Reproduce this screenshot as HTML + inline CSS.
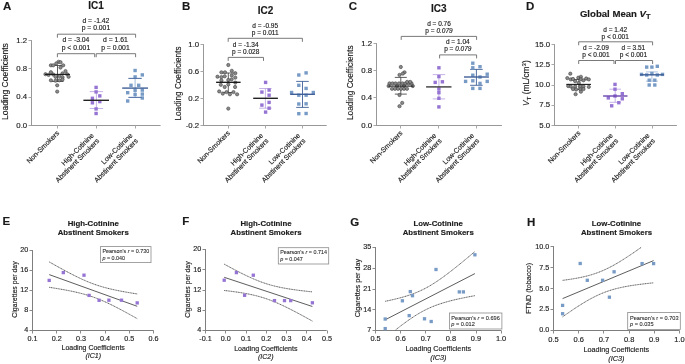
<!DOCTYPE html>
<html><head><meta charset="utf-8"><style>
html,body{margin:0;padding:0;background:#fff;}
body{width:685px;height:364px;overflow:hidden;}
svg{display:block;font-family:"Liberation Sans", sans-serif;will-change:transform;}
text{stroke:#222;stroke-width:0.15px;}
</style></head><body>
<svg width="685" height="364" viewBox="0 0 685 364">
<rect width="685" height="364" fill="#fff"/>
<text x="3.00" y="10.30" font-size="11.5" text-anchor="start" font-weight="bold" fill="#1a1a1a">A</text>
<text x="96.10" y="8.60" font-size="10" text-anchor="middle" font-weight="bold" fill="#1a1a1a">IC1</text>
<line x1="31.50" y1="40.00" x2="31.50" y2="126.00" stroke="#989898" stroke-width="1"/>
<line x1="28.50" y1="40.50" x2="31.50" y2="40.50" stroke="#a8a8a8" stroke-width="1"/>
<text x="27.20" y="42.66" font-size="7.8" text-anchor="end" fill="#1a1a1a">1.2</text>
<line x1="28.50" y1="68.50" x2="31.50" y2="68.50" stroke="#a8a8a8" stroke-width="1"/>
<text x="27.20" y="70.96" font-size="7.8" text-anchor="end" fill="#1a1a1a">0.8</text>
<line x1="28.50" y1="97.50" x2="31.50" y2="97.50" stroke="#a8a8a8" stroke-width="1"/>
<text x="27.20" y="99.26" font-size="7.8" text-anchor="end" fill="#1a1a1a">0.4</text>
<line x1="28.50" y1="125.50" x2="31.50" y2="125.50" stroke="#a8a8a8" stroke-width="1"/>
<text x="27.20" y="127.56" font-size="7.8" text-anchor="end" fill="#1a1a1a">0.0</text>
<line x1="31.00" y1="125.50" x2="160.60" y2="125.50" stroke="#989898" stroke-width="1"/>
<line x1="57.50" y1="125.50" x2="57.50" y2="128.50" stroke="#a8a8a8" stroke-width="1"/>
<line x1="96.50" y1="125.50" x2="96.50" y2="128.50" stroke="#a8a8a8" stroke-width="1"/>
<line x1="135.50" y1="125.50" x2="135.50" y2="128.50" stroke="#a8a8a8" stroke-width="1"/>
<text transform="translate(7.80,81.60) rotate(-90)" font-size="8.5" text-anchor="middle" fill="#1a1a1a">Loading Coefficients</text>
<text x="95.90" y="22.70" font-size="6.8" text-anchor="middle" fill="#1a1a1a">d = -1.42</text>
<text x="95.90" y="29.90" font-size="6.8" text-anchor="middle" fill="#1a1a1a">p = 0.001</text>
<path d="M57.40,37.70 V34.20 H135.60 V37.70" fill="none" stroke="#6a6a6a" stroke-width="0.9"/>
<text x="75.90" y="42.30" font-size="6.8" text-anchor="middle" fill="#1a1a1a">d = -3.04</text>
<text x="75.90" y="49.50" font-size="6.8" text-anchor="middle" fill="#1a1a1a">p &lt; 0.001</text>
<text x="115.40" y="42.30" font-size="6.8" text-anchor="middle" fill="#1a1a1a">d = 1.61</text>
<text x="115.40" y="49.50" font-size="6.8" text-anchor="middle" fill="#1a1a1a">p = 0.001</text>
<path d="M57.40,57.20 V53.70 H94.70 V57.20" fill="none" stroke="#6a6a6a" stroke-width="0.9"/>
<path d="M96.20,57.20 V53.70 H135.60 V57.20" fill="none" stroke="#6a6a6a" stroke-width="0.9"/>
<line x1="57.50" y1="65.50" x2="57.50" y2="81.50" stroke="#333" stroke-width="0.8"/>
<line x1="51.50" y1="65.50" x2="63.50" y2="65.50" stroke="#333" stroke-width="0.8"/>
<line x1="51.50" y1="81.50" x2="63.50" y2="81.50" stroke="#333" stroke-width="0.8"/>
<circle cx="58.60" cy="61.80" r="1.65" fill="#8a8a8a" stroke="#383838" stroke-width="0.55"/>
<circle cx="60.50" cy="62.20" r="1.65" fill="#8a8a8a" stroke="#383838" stroke-width="0.55"/>
<circle cx="56.30" cy="63.40" r="1.65" fill="#8a8a8a" stroke="#383838" stroke-width="0.55"/>
<circle cx="50.90" cy="65.30" r="1.65" fill="#8a8a8a" stroke="#383838" stroke-width="0.55"/>
<circle cx="53.20" cy="65.30" r="1.65" fill="#8a8a8a" stroke="#383838" stroke-width="0.55"/>
<circle cx="63.20" cy="65.30" r="1.65" fill="#8a8a8a" stroke="#383838" stroke-width="0.55"/>
<circle cx="60.50" cy="67.60" r="1.65" fill="#8a8a8a" stroke="#383838" stroke-width="0.55"/>
<circle cx="50.90" cy="72.20" r="1.65" fill="#8a8a8a" stroke="#383838" stroke-width="0.55"/>
<circle cx="65.50" cy="71.10" r="1.65" fill="#8a8a8a" stroke="#383838" stroke-width="0.55"/>
<circle cx="45.50" cy="74.20" r="1.65" fill="#8a8a8a" stroke="#383838" stroke-width="0.55"/>
<circle cx="48.60" cy="74.90" r="1.65" fill="#8a8a8a" stroke="#383838" stroke-width="0.55"/>
<circle cx="53.20" cy="74.50" r="1.65" fill="#8a8a8a" stroke="#383838" stroke-width="0.55"/>
<circle cx="62.50" cy="73.40" r="1.65" fill="#8a8a8a" stroke="#383838" stroke-width="0.55"/>
<circle cx="67.10" cy="74.20" r="1.65" fill="#8a8a8a" stroke="#383838" stroke-width="0.55"/>
<circle cx="68.60" cy="76.80" r="1.65" fill="#8a8a8a" stroke="#383838" stroke-width="0.55"/>
<circle cx="55.50" cy="76.80" r="1.65" fill="#8a8a8a" stroke="#383838" stroke-width="0.55"/>
<circle cx="59.40" cy="76.10" r="1.65" fill="#8a8a8a" stroke="#383838" stroke-width="0.55"/>
<circle cx="62.50" cy="77.20" r="1.65" fill="#8a8a8a" stroke="#383838" stroke-width="0.55"/>
<circle cx="50.90" cy="80.30" r="1.65" fill="#8a8a8a" stroke="#383838" stroke-width="0.55"/>
<circle cx="55.50" cy="80.70" r="1.65" fill="#8a8a8a" stroke="#383838" stroke-width="0.55"/>
<circle cx="59.40" cy="80.30" r="1.65" fill="#8a8a8a" stroke="#383838" stroke-width="0.55"/>
<circle cx="62.50" cy="79.50" r="1.65" fill="#8a8a8a" stroke="#383838" stroke-width="0.55"/>
<circle cx="57.20" cy="85.30" r="1.65" fill="#8a8a8a" stroke="#383838" stroke-width="0.55"/>
<circle cx="57.20" cy="91.60" r="1.65" fill="#8a8a8a" stroke="#383838" stroke-width="0.55"/>
<line x1="45.00" y1="74.40" x2="70.00" y2="74.40" stroke="#1a1a1a" stroke-width="1.1"/>
<line x1="96.40" y1="91.60" x2="96.40" y2="108.50" stroke="#ad92de" stroke-width="0.7"/>
<line x1="89.70" y1="91.60" x2="103.10" y2="91.60" stroke="#ad92de" stroke-width="0.7"/>
<line x1="89.70" y1="108.50" x2="103.10" y2="108.50" stroke="#ad92de" stroke-width="0.7"/>
<rect x="94.40" y="85.70" width="3.4" height="3.4" fill="#9674d3"/>
<rect x="94.40" y="90.20" width="3.4" height="3.4" fill="#9674d3"/>
<rect x="98.10" y="94.20" width="3.4" height="3.4" fill="#9674d3"/>
<rect x="90.70" y="96.60" width="3.4" height="3.4" fill="#9674d3"/>
<rect x="98.10" y="99.90" width="3.4" height="3.4" fill="#9674d3"/>
<rect x="90.70" y="101.10" width="3.4" height="3.4" fill="#9674d3"/>
<rect x="94.40" y="107.20" width="3.4" height="3.4" fill="#9674d3"/>
<rect x="94.40" y="111.80" width="3.4" height="3.4" fill="#9674d3"/>
<line x1="83.40" y1="100.30" x2="109.00" y2="100.30" stroke="#222" stroke-width="1.4"/>
<line x1="135.10" y1="78.40" x2="135.10" y2="97.40" stroke="#8eaad2" stroke-width="0.8"/>
<line x1="128.50" y1="78.40" x2="141.70" y2="78.40" stroke="#8eaad2" stroke-width="0.8"/>
<line x1="128.50" y1="97.40" x2="141.70" y2="97.40" stroke="#8eaad2" stroke-width="0.8"/>
<rect x="133.40" y="68.80" width="3.4" height="3.4" fill="#789bc6"/>
<rect x="140.60" y="73.20" width="3.4" height="3.4" fill="#789bc6"/>
<rect x="133.40" y="75.20" width="3.4" height="3.4" fill="#789bc6"/>
<rect x="129.30" y="83.60" width="3.4" height="3.4" fill="#789bc6"/>
<rect x="137.00" y="83.60" width="3.4" height="3.4" fill="#789bc6"/>
<rect x="133.40" y="88.60" width="3.4" height="3.4" fill="#789bc6"/>
<rect x="140.60" y="88.40" width="3.4" height="3.4" fill="#789bc6"/>
<rect x="126.00" y="91.00" width="3.4" height="3.4" fill="#789bc6"/>
<rect x="140.60" y="92.40" width="3.4" height="3.4" fill="#789bc6"/>
<rect x="133.40" y="92.80" width="3.4" height="3.4" fill="#789bc6"/>
<rect x="140.60" y="96.30" width="3.4" height="3.4" fill="#789bc6"/>
<rect x="126.00" y="99.30" width="3.4" height="3.4" fill="#789bc6"/>
<line x1="122.20" y1="88.10" x2="148.00" y2="88.10" stroke="#3f5f98" stroke-width="1.4"/>
<line x1="128.40" y1="78.40" x2="141.60" y2="78.40" stroke="#3f5f98" stroke-width="0.8"/>
<line x1="128.40" y1="97.40" x2="141.60" y2="97.40" stroke="#3f5f98" stroke-width="0.8"/>
<text transform="translate(59.70,133.50) rotate(-45)" font-size="7.0" text-anchor="end" fill="#1a1a1a">Non-Smokers</text>
<text transform="translate(94.30,135.90) rotate(-45)" font-size="7.0" text-anchor="end" fill="#1a1a1a">High-Cotinine</text>
<text transform="translate(99.74,141.34) rotate(-45)" font-size="7.0" text-anchor="end" fill="#1a1a1a">Abstinent Smokers</text>
<text transform="translate(133.00,135.90) rotate(-45)" font-size="7.0" text-anchor="end" fill="#1a1a1a">Low-Cotinine</text>
<text transform="translate(138.44,141.34) rotate(-45)" font-size="7.0" text-anchor="end" fill="#1a1a1a">Abstinent Smokers</text>
<text x="181.90" y="10.40" font-size="11.5" text-anchor="start" font-weight="bold" fill="#1a1a1a">B</text>
<text x="265.50" y="14.30" font-size="10" text-anchor="middle" font-weight="bold" fill="#1a1a1a">IC2</text>
<line x1="203.50" y1="44.00" x2="203.50" y2="126.00" stroke="#989898" stroke-width="1"/>
<line x1="200.50" y1="44.50" x2="203.50" y2="44.50" stroke="#a8a8a8" stroke-width="1"/>
<text x="199.20" y="46.76" font-size="7.8" text-anchor="end" fill="#1a1a1a">1.0</text>
<line x1="200.50" y1="71.50" x2="203.50" y2="71.50" stroke="#a8a8a8" stroke-width="1"/>
<text x="199.20" y="73.69" font-size="7.8" text-anchor="end" fill="#1a1a1a">0.6</text>
<line x1="200.50" y1="98.50" x2="203.50" y2="98.50" stroke="#a8a8a8" stroke-width="1"/>
<text x="199.20" y="100.63" font-size="7.8" text-anchor="end" fill="#1a1a1a">0.2</text>
<line x1="200.50" y1="125.50" x2="203.50" y2="125.50" stroke="#a8a8a8" stroke-width="1"/>
<text x="199.20" y="127.56" font-size="7.8" text-anchor="end" fill="#1a1a1a">-0.2</text>
<line x1="203.00" y1="125.50" x2="326.70" y2="125.50" stroke="#989898" stroke-width="1"/>
<line x1="228.50" y1="125.50" x2="228.50" y2="128.50" stroke="#a8a8a8" stroke-width="1"/>
<line x1="265.50" y1="125.50" x2="265.50" y2="128.50" stroke="#a8a8a8" stroke-width="1"/>
<line x1="302.50" y1="125.50" x2="302.50" y2="128.50" stroke="#a8a8a8" stroke-width="1"/>
<text transform="translate(180.50,83.50) rotate(-90)" font-size="8.2" text-anchor="middle" fill="#1a1a1a">Loading Coefficients</text>
<text x="265.20" y="27.90" font-size="6.5" text-anchor="middle" fill="#1a1a1a">d = -0.95</text>
<text x="265.20" y="34.90" font-size="6.5" text-anchor="middle" fill="#1a1a1a">p = 0.011</text>
<path d="M228.20,41.80 V38.30 H302.40 V41.80" fill="none" stroke="#6a6a6a" stroke-width="0.9"/>
<text x="245.70" y="47.00" font-size="6.5" text-anchor="middle" fill="#1a1a1a">d = -1.34</text>
<text x="245.70" y="54.00" font-size="6.5" text-anchor="middle" fill="#1a1a1a">p = 0.028</text>
<path d="M228.20,60.90 V57.40 H263.50 V60.90" fill="none" stroke="#6a6a6a" stroke-width="0.9"/>
<line x1="228.30" y1="73.00" x2="228.30" y2="92.50" stroke="#333" stroke-width="0.8"/>
<line x1="222.00" y1="73.00" x2="234.60" y2="73.00" stroke="#333" stroke-width="0.8"/>
<line x1="222.00" y1="92.50" x2="234.60" y2="92.50" stroke="#333" stroke-width="0.8"/>
<circle cx="228.30" cy="65.00" r="1.65" fill="#8a8a8a" stroke="#383838" stroke-width="0.55"/>
<circle cx="221.40" cy="72.30" r="1.65" fill="#8a8a8a" stroke="#383838" stroke-width="0.55"/>
<circle cx="225.00" cy="72.30" r="1.65" fill="#8a8a8a" stroke="#383838" stroke-width="0.55"/>
<circle cx="231.80" cy="70.80" r="1.65" fill="#8a8a8a" stroke="#383838" stroke-width="0.55"/>
<circle cx="235.30" cy="73.20" r="1.65" fill="#8a8a8a" stroke="#383838" stroke-width="0.55"/>
<circle cx="217.50" cy="76.70" r="1.65" fill="#8a8a8a" stroke="#383838" stroke-width="0.55"/>
<circle cx="221.40" cy="77.10" r="1.65" fill="#8a8a8a" stroke="#383838" stroke-width="0.55"/>
<circle cx="224.70" cy="76.30" r="1.65" fill="#8a8a8a" stroke="#383838" stroke-width="0.55"/>
<circle cx="231.80" cy="75.40" r="1.65" fill="#8a8a8a" stroke="#383838" stroke-width="0.55"/>
<circle cx="235.30" cy="77.60" r="1.65" fill="#8a8a8a" stroke="#383838" stroke-width="0.55"/>
<circle cx="231.60" cy="79.30" r="1.65" fill="#8a8a8a" stroke="#383838" stroke-width="0.55"/>
<circle cx="228.30" cy="80.00" r="1.65" fill="#8a8a8a" stroke="#383838" stroke-width="0.55"/>
<circle cx="221.40" cy="80.40" r="1.65" fill="#8a8a8a" stroke="#383838" stroke-width="0.55"/>
<circle cx="220.80" cy="84.80" r="1.65" fill="#8a8a8a" stroke="#383838" stroke-width="0.55"/>
<circle cx="224.70" cy="87.00" r="1.65" fill="#8a8a8a" stroke="#383838" stroke-width="0.55"/>
<circle cx="228.30" cy="84.40" r="1.65" fill="#8a8a8a" stroke="#383838" stroke-width="0.55"/>
<circle cx="235.30" cy="82.60" r="1.65" fill="#8a8a8a" stroke="#383838" stroke-width="0.55"/>
<circle cx="235.10" cy="87.00" r="1.65" fill="#8a8a8a" stroke="#383838" stroke-width="0.55"/>
<circle cx="219.20" cy="91.40" r="1.65" fill="#8a8a8a" stroke="#383838" stroke-width="0.55"/>
<circle cx="222.80" cy="93.60" r="1.65" fill="#8a8a8a" stroke="#383838" stroke-width="0.55"/>
<circle cx="226.50" cy="92.10" r="1.65" fill="#8a8a8a" stroke="#383838" stroke-width="0.55"/>
<circle cx="229.90" cy="94.30" r="1.65" fill="#8a8a8a" stroke="#383838" stroke-width="0.55"/>
<circle cx="233.50" cy="92.10" r="1.65" fill="#8a8a8a" stroke="#383838" stroke-width="0.55"/>
<circle cx="237.10" cy="94.30" r="1.65" fill="#8a8a8a" stroke="#383838" stroke-width="0.55"/>
<circle cx="228.30" cy="108.60" r="1.65" fill="#8a8a8a" stroke="#383838" stroke-width="0.55"/>
<line x1="216.10" y1="82.30" x2="240.60" y2="82.30" stroke="#111" stroke-width="1.3"/>
<line x1="265.40" y1="88.50" x2="265.40" y2="108.20" stroke="#ad92de" stroke-width="0.7"/>
<line x1="259.20" y1="88.50" x2="271.60" y2="88.50" stroke="#ad92de" stroke-width="0.7"/>
<line x1="259.20" y1="108.20" x2="271.60" y2="108.20" stroke="#ad92de" stroke-width="0.7"/>
<rect x="263.90" y="80.70" width="3.4" height="3.4" fill="#9674d3"/>
<rect x="260.20" y="90.40" width="3.4" height="3.4" fill="#9674d3"/>
<rect x="267.40" y="88.40" width="3.4" height="3.4" fill="#9674d3"/>
<rect x="267.40" y="93.50" width="3.4" height="3.4" fill="#9674d3"/>
<rect x="260.20" y="103.40" width="3.4" height="3.4" fill="#9674d3"/>
<rect x="267.40" y="100.70" width="3.4" height="3.4" fill="#9674d3"/>
<rect x="267.40" y="106.50" width="3.4" height="3.4" fill="#9674d3"/>
<rect x="263.90" y="110.40" width="3.4" height="3.4" fill="#9674d3"/>
<line x1="253.20" y1="98.30" x2="277.90" y2="98.30" stroke="#222" stroke-width="1.4"/>
<line x1="302.50" y1="81.40" x2="302.50" y2="107.40" stroke="#3f5f98" stroke-width="0.9"/>
<line x1="296.20" y1="81.40" x2="308.80" y2="81.40" stroke="#3f5f98" stroke-width="0.9"/>
<line x1="296.20" y1="107.40" x2="308.80" y2="107.40" stroke="#3f5f98" stroke-width="0.9"/>
<rect x="297.10" y="73.30" width="3.4" height="3.4" fill="#789bc6"/>
<rect x="304.40" y="71.20" width="3.4" height="3.4" fill="#789bc6"/>
<rect x="297.10" y="83.60" width="3.4" height="3.4" fill="#789bc6"/>
<rect x="304.40" y="86.70" width="3.4" height="3.4" fill="#789bc6"/>
<rect x="289.90" y="90.80" width="3.4" height="3.4" fill="#789bc6"/>
<rect x="311.60" y="90.80" width="3.4" height="3.4" fill="#789bc6"/>
<rect x="297.10" y="93.50" width="3.4" height="3.4" fill="#789bc6"/>
<rect x="304.40" y="93.50" width="3.4" height="3.4" fill="#789bc6"/>
<rect x="297.10" y="102.30" width="3.4" height="3.4" fill="#789bc6"/>
<rect x="304.40" y="102.10" width="3.4" height="3.4" fill="#789bc6"/>
<rect x="297.10" y="112.00" width="3.4" height="3.4" fill="#789bc6"/>
<rect x="304.40" y="111.80" width="3.4" height="3.4" fill="#789bc6"/>
<line x1="290.20" y1="94.30" x2="314.90" y2="94.30" stroke="#3f5f98" stroke-width="1.4"/>
<text transform="translate(230.40,133.50) rotate(-45)" font-size="7.0" text-anchor="end" fill="#1a1a1a">Non-Smokers</text>
<text transform="translate(263.50,135.90) rotate(-45)" font-size="7.0" text-anchor="end" fill="#1a1a1a">High-Cotinine</text>
<text transform="translate(268.94,141.34) rotate(-45)" font-size="7.0" text-anchor="end" fill="#1a1a1a">Abstinent Smokers</text>
<text transform="translate(300.50,135.90) rotate(-45)" font-size="7.0" text-anchor="end" fill="#1a1a1a">Low-Cotinine</text>
<text transform="translate(305.94,141.34) rotate(-45)" font-size="7.0" text-anchor="end" fill="#1a1a1a">Abstinent Smokers</text>
<text x="348.70" y="10.40" font-size="11.5" text-anchor="start" font-weight="bold" fill="#1a1a1a">C</text>
<text x="438.80" y="11.90" font-size="10" text-anchor="middle" font-weight="bold" fill="#1a1a1a">IC3</text>
<line x1="376.50" y1="43.00" x2="376.50" y2="126.00" stroke="#989898" stroke-width="1"/>
<line x1="373.50" y1="43.50" x2="376.50" y2="43.50" stroke="#a8a8a8" stroke-width="1"/>
<text x="372.20" y="45.57" font-size="7.8" text-anchor="end" fill="#1a1a1a">1.2</text>
<line x1="373.50" y1="70.50" x2="376.50" y2="70.50" stroke="#a8a8a8" stroke-width="1"/>
<text x="372.20" y="72.90" font-size="7.8" text-anchor="end" fill="#1a1a1a">0.8</text>
<line x1="373.50" y1="97.50" x2="376.50" y2="97.50" stroke="#a8a8a8" stroke-width="1"/>
<text x="372.20" y="100.23" font-size="7.8" text-anchor="end" fill="#1a1a1a">0.4</text>
<line x1="373.50" y1="125.50" x2="376.50" y2="125.50" stroke="#a8a8a8" stroke-width="1"/>
<text x="372.20" y="127.56" font-size="7.8" text-anchor="end" fill="#1a1a1a">0.0</text>
<line x1="376.00" y1="125.50" x2="501.90" y2="125.50" stroke="#989898" stroke-width="1"/>
<line x1="400.50" y1="125.50" x2="400.50" y2="128.50" stroke="#a8a8a8" stroke-width="1"/>
<line x1="438.50" y1="125.50" x2="438.50" y2="128.50" stroke="#a8a8a8" stroke-width="1"/>
<line x1="476.50" y1="125.50" x2="476.50" y2="128.50" stroke="#a8a8a8" stroke-width="1"/>
<text transform="translate(352.60,82.70) rotate(-90)" font-size="8.25" text-anchor="middle" fill="#1a1a1a">Loading Coefficients</text>
<text x="439.00" y="25.50" font-size="6.5" text-anchor="middle" fill="#1a1a1a">d = 0.76</text>
<text x="439.00" y="32.50" font-size="6.5" text-anchor="middle" fill="#1a1a1a">p = <tspan font-style="italic">0.079</tspan></text>
<path d="M401.20,39.90 V36.40 H476.60 V39.90" fill="none" stroke="#6a6a6a" stroke-width="0.9"/>
<text x="457.80" y="44.00" font-size="6.5" text-anchor="middle" fill="#1a1a1a">d = 1.04</text>
<text x="457.80" y="51.00" font-size="6.5" text-anchor="middle" fill="#1a1a1a">p = <tspan font-style="italic">0.079</tspan></text>
<path d="M439.60,58.40 V54.90 H476.60 V58.40" fill="none" stroke="#6a6a6a" stroke-width="0.9"/>
<line x1="400.80" y1="77.40" x2="400.80" y2="94.10" stroke="#333" stroke-width="0.8"/>
<line x1="394.80" y1="77.40" x2="406.80" y2="77.40" stroke="#333" stroke-width="0.8"/>
<line x1="394.80" y1="94.10" x2="406.80" y2="94.10" stroke="#333" stroke-width="0.8"/>
<circle cx="400.80" cy="67.00" r="1.65" fill="#8a8a8a" stroke="#383838" stroke-width="0.55"/>
<circle cx="404.50" cy="72.30" r="1.65" fill="#8a8a8a" stroke="#383838" stroke-width="0.55"/>
<circle cx="402.80" cy="73.60" r="1.65" fill="#8a8a8a" stroke="#383838" stroke-width="0.55"/>
<circle cx="399.50" cy="74.90" r="1.65" fill="#8a8a8a" stroke="#383838" stroke-width="0.55"/>
<circle cx="389.50" cy="83.40" r="1.65" fill="#8a8a8a" stroke="#383838" stroke-width="0.55"/>
<circle cx="392.50" cy="83.40" r="1.65" fill="#8a8a8a" stroke="#383838" stroke-width="0.55"/>
<circle cx="395.50" cy="83.40" r="1.65" fill="#8a8a8a" stroke="#383838" stroke-width="0.55"/>
<circle cx="399.00" cy="83.40" r="1.65" fill="#8a8a8a" stroke="#383838" stroke-width="0.55"/>
<circle cx="402.50" cy="83.40" r="1.65" fill="#8a8a8a" stroke="#383838" stroke-width="0.55"/>
<circle cx="405.50" cy="83.40" r="1.65" fill="#8a8a8a" stroke="#383838" stroke-width="0.55"/>
<circle cx="408.50" cy="83.40" r="1.65" fill="#8a8a8a" stroke="#383838" stroke-width="0.55"/>
<circle cx="411.50" cy="83.40" r="1.65" fill="#8a8a8a" stroke="#383838" stroke-width="0.55"/>
<circle cx="407.20" cy="81.90" r="1.65" fill="#8a8a8a" stroke="#383838" stroke-width="0.55"/>
<circle cx="410.20" cy="81.90" r="1.65" fill="#8a8a8a" stroke="#383838" stroke-width="0.55"/>
<circle cx="388.60" cy="86.00" r="1.65" fill="#8a8a8a" stroke="#383838" stroke-width="0.55"/>
<circle cx="412.80" cy="86.00" r="1.65" fill="#8a8a8a" stroke="#383838" stroke-width="0.55"/>
<circle cx="397.00" cy="86.00" r="1.65" fill="#8a8a8a" stroke="#383838" stroke-width="0.55"/>
<circle cx="404.00" cy="86.00" r="1.65" fill="#8a8a8a" stroke="#383838" stroke-width="0.55"/>
<circle cx="392.00" cy="88.80" r="1.65" fill="#8a8a8a" stroke="#383838" stroke-width="0.55"/>
<circle cx="395.00" cy="88.80" r="1.65" fill="#8a8a8a" stroke="#383838" stroke-width="0.55"/>
<circle cx="398.00" cy="88.80" r="1.65" fill="#8a8a8a" stroke="#383838" stroke-width="0.55"/>
<circle cx="401.00" cy="88.80" r="1.65" fill="#8a8a8a" stroke="#383838" stroke-width="0.55"/>
<circle cx="404.00" cy="88.80" r="1.65" fill="#8a8a8a" stroke="#383838" stroke-width="0.55"/>
<circle cx="407.00" cy="88.80" r="1.65" fill="#8a8a8a" stroke="#383838" stroke-width="0.55"/>
<circle cx="399.50" cy="95.00" r="1.65" fill="#8a8a8a" stroke="#383838" stroke-width="0.55"/>
<circle cx="402.20" cy="102.90" r="1.65" fill="#8a8a8a" stroke="#383838" stroke-width="0.55"/>
<circle cx="399.50" cy="106.20" r="1.65" fill="#8a8a8a" stroke="#383838" stroke-width="0.55"/>
<line x1="388.40" y1="86.10" x2="413.50" y2="86.10" stroke="#1a1a1a" stroke-width="1.1"/>
<line x1="438.90" y1="74.60" x2="438.90" y2="98.90" stroke="#ad92de" stroke-width="0.7"/>
<line x1="432.70" y1="74.60" x2="445.10" y2="74.60" stroke="#ad92de" stroke-width="0.7"/>
<line x1="432.70" y1="98.90" x2="445.10" y2="98.90" stroke="#ad92de" stroke-width="0.7"/>
<rect x="437.20" y="66.10" width="3.4" height="3.4" fill="#9674d3"/>
<rect x="437.20" y="74.90" width="3.4" height="3.4" fill="#9674d3"/>
<rect x="433.50" y="80.70" width="3.4" height="3.4" fill="#9674d3"/>
<rect x="440.70" y="80.10" width="3.4" height="3.4" fill="#9674d3"/>
<rect x="437.20" y="87.30" width="3.4" height="3.4" fill="#9674d3"/>
<rect x="437.20" y="91.00" width="3.4" height="3.4" fill="#9674d3"/>
<rect x="437.20" y="96.60" width="3.4" height="3.4" fill="#9674d3"/>
<rect x="437.20" y="105.20" width="3.4" height="3.4" fill="#9674d3"/>
<line x1="426.10" y1="86.90" x2="451.50" y2="86.90" stroke="#3a3a3a" stroke-width="1.4"/>
<line x1="476.40" y1="69.40" x2="476.40" y2="85.30" stroke="#3f5f98" stroke-width="0.9"/>
<line x1="470.10" y1="69.40" x2="482.70" y2="69.40" stroke="#3f5f98" stroke-width="0.9"/>
<line x1="470.10" y1="85.30" x2="482.70" y2="85.30" stroke="#3f5f98" stroke-width="0.9"/>
<rect x="471.10" y="61.50" width="3.4" height="3.4" fill="#789bc6"/>
<rect x="471.10" y="66.10" width="3.4" height="3.4" fill="#789bc6"/>
<rect x="478.30" y="65.00" width="3.4" height="3.4" fill="#789bc6"/>
<rect x="471.10" y="73.50" width="3.4" height="3.4" fill="#789bc6"/>
<rect x="478.30" y="75.30" width="3.4" height="3.4" fill="#789bc6"/>
<rect x="485.50" y="72.50" width="3.4" height="3.4" fill="#789bc6"/>
<rect x="463.90" y="79.70" width="3.4" height="3.4" fill="#789bc6"/>
<rect x="471.10" y="79.10" width="3.4" height="3.4" fill="#789bc6"/>
<rect x="478.30" y="81.70" width="3.4" height="3.4" fill="#789bc6"/>
<rect x="485.50" y="79.70" width="3.4" height="3.4" fill="#789bc6"/>
<rect x="471.10" y="86.70" width="3.4" height="3.4" fill="#789bc6"/>
<rect x="478.30" y="86.70" width="3.4" height="3.4" fill="#789bc6"/>
<line x1="464.00" y1="77.00" x2="488.90" y2="77.00" stroke="#3f5f98" stroke-width="1.4"/>
<text transform="translate(403.10,133.50) rotate(-45)" font-size="7.0" text-anchor="end" fill="#1a1a1a">Non-Smokers</text>
<text transform="translate(436.70,135.90) rotate(-45)" font-size="7.0" text-anchor="end" fill="#1a1a1a">High-Cotinine</text>
<text transform="translate(442.14,141.34) rotate(-45)" font-size="7.0" text-anchor="end" fill="#1a1a1a">Abstinent Smokers</text>
<text transform="translate(474.40,135.90) rotate(-45)" font-size="7.0" text-anchor="end" fill="#1a1a1a">Low-Cotinine</text>
<text transform="translate(479.84,141.34) rotate(-45)" font-size="7.0" text-anchor="end" fill="#1a1a1a">Abstinent Smokers</text>
<text x="526.10" y="10.40" font-size="11.5" text-anchor="start" font-weight="bold" fill="#1a1a1a">D</text>
<text x="579.9" y="16.8" font-size="9.6" font-weight="bold" fill="#1a1a1a">Global Mean <tspan font-style="italic">V</tspan><tspan font-size="7.4" dy="2.6">T</tspan></text>
<line x1="554.50" y1="44.00" x2="554.50" y2="126.00" stroke="#989898" stroke-width="1"/>
<line x1="551.50" y1="44.50" x2="554.50" y2="44.50" stroke="#a8a8a8" stroke-width="1"/>
<text x="550.20" y="46.96" font-size="7.8" text-anchor="end" fill="#1a1a1a">15.0</text>
<line x1="551.50" y1="64.50" x2="554.50" y2="64.50" stroke="#a8a8a8" stroke-width="1"/>
<text x="550.20" y="67.11" font-size="7.8" text-anchor="end" fill="#1a1a1a">12.5</text>
<line x1="551.50" y1="85.50" x2="554.50" y2="85.50" stroke="#a8a8a8" stroke-width="1"/>
<text x="550.20" y="87.26" font-size="7.8" text-anchor="end" fill="#1a1a1a">10.0</text>
<line x1="551.50" y1="105.50" x2="554.50" y2="105.50" stroke="#a8a8a8" stroke-width="1"/>
<text x="550.20" y="107.41" font-size="7.8" text-anchor="end" fill="#1a1a1a">7.5</text>
<line x1="551.50" y1="125.50" x2="554.50" y2="125.50" stroke="#a8a8a8" stroke-width="1"/>
<text x="550.20" y="127.56" font-size="7.8" text-anchor="end" fill="#1a1a1a">5.0</text>
<line x1="554.00" y1="125.50" x2="676.90" y2="125.50" stroke="#989898" stroke-width="1"/>
<line x1="578.50" y1="125.50" x2="578.50" y2="128.50" stroke="#a8a8a8" stroke-width="1"/>
<line x1="615.50" y1="125.50" x2="615.50" y2="128.50" stroke="#a8a8a8" stroke-width="1"/>
<line x1="652.50" y1="125.50" x2="652.50" y2="128.50" stroke="#a8a8a8" stroke-width="1"/>
<text transform="translate(528.6,83.2) rotate(-90)" font-size="8.4" text-anchor="middle" fill="#1a1a1a"><tspan font-style="italic">V</tspan><tspan font-size="6.2" dy="2">T</tspan><tspan dy="-2"> (mL/cm</tspan><tspan font-size="6" dy="-2.8">3</tspan><tspan dy="2.8">)</tspan></text>
<text x="615.20" y="31.70" font-size="6.5" text-anchor="middle" fill="#1a1a1a">d = 1.42</text>
<text x="615.20" y="38.70" font-size="6.5" text-anchor="middle" fill="#1a1a1a">p &lt; 0.001</text>
<path d="M578.70,45.30 V41.80 H652.60 V45.30" fill="none" stroke="#6a6a6a" stroke-width="0.9"/>
<text x="595.90" y="49.50" font-size="6.5" text-anchor="middle" fill="#1a1a1a">d = -2.09</text>
<text x="595.90" y="56.50" font-size="6.5" text-anchor="middle" fill="#1a1a1a">p &lt; 0.001</text>
<text x="633.40" y="49.50" font-size="6.5" text-anchor="middle" fill="#1a1a1a">d = 3.51</text>
<text x="633.40" y="56.50" font-size="6.5" text-anchor="middle" fill="#1a1a1a">p &lt; 0.001</text>
<path d="M578.70,64.00 V60.50 H614.00 V64.00" fill="none" stroke="#6a6a6a" stroke-width="0.9"/>
<path d="M615.50,64.00 V60.50 H652.60 V64.00" fill="none" stroke="#6a6a6a" stroke-width="0.9"/>
<line x1="578.80" y1="79.50" x2="578.80" y2="89.50" stroke="#333" stroke-width="0.8"/>
<line x1="572.80" y1="79.50" x2="584.80" y2="79.50" stroke="#333" stroke-width="0.8"/>
<line x1="572.80" y1="89.50" x2="584.80" y2="89.50" stroke="#333" stroke-width="0.8"/>
<circle cx="570.30" cy="73.70" r="1.65" fill="#8a8a8a" stroke="#383838" stroke-width="0.55"/>
<circle cx="567.30" cy="78.10" r="1.65" fill="#8a8a8a" stroke="#383838" stroke-width="0.55"/>
<circle cx="570.80" cy="79.40" r="1.65" fill="#8a8a8a" stroke="#383838" stroke-width="0.55"/>
<circle cx="573.00" cy="79.00" r="1.65" fill="#8a8a8a" stroke="#383838" stroke-width="0.55"/>
<circle cx="575.20" cy="81.20" r="1.65" fill="#8a8a8a" stroke="#383838" stroke-width="0.55"/>
<circle cx="578.30" cy="77.70" r="1.65" fill="#8a8a8a" stroke="#383838" stroke-width="0.55"/>
<circle cx="580.90" cy="76.80" r="1.65" fill="#8a8a8a" stroke="#383838" stroke-width="0.55"/>
<circle cx="580.90" cy="79.40" r="1.65" fill="#8a8a8a" stroke="#383838" stroke-width="0.55"/>
<circle cx="583.50" cy="80.30" r="1.65" fill="#8a8a8a" stroke="#383838" stroke-width="0.55"/>
<circle cx="586.20" cy="78.50" r="1.65" fill="#8a8a8a" stroke="#383838" stroke-width="0.55"/>
<circle cx="588.80" cy="79.40" r="1.65" fill="#8a8a8a" stroke="#383838" stroke-width="0.55"/>
<circle cx="568.20" cy="86.00" r="1.65" fill="#8a8a8a" stroke="#383838" stroke-width="0.55"/>
<circle cx="570.80" cy="86.50" r="1.65" fill="#8a8a8a" stroke="#383838" stroke-width="0.55"/>
<circle cx="575.20" cy="86.50" r="1.65" fill="#8a8a8a" stroke="#383838" stroke-width="0.55"/>
<circle cx="580.50" cy="86.50" r="1.65" fill="#8a8a8a" stroke="#383838" stroke-width="0.55"/>
<circle cx="583.50" cy="86.50" r="1.65" fill="#8a8a8a" stroke="#383838" stroke-width="0.55"/>
<circle cx="588.80" cy="86.90" r="1.65" fill="#8a8a8a" stroke="#383838" stroke-width="0.55"/>
<circle cx="573.00" cy="89.10" r="1.65" fill="#8a8a8a" stroke="#383838" stroke-width="0.55"/>
<circle cx="576.10" cy="89.50" r="1.65" fill="#8a8a8a" stroke="#383838" stroke-width="0.55"/>
<circle cx="580.50" cy="89.50" r="1.65" fill="#8a8a8a" stroke="#383838" stroke-width="0.55"/>
<circle cx="583.50" cy="89.10" r="1.65" fill="#8a8a8a" stroke="#383838" stroke-width="0.55"/>
<circle cx="580.90" cy="91.70" r="1.65" fill="#8a8a8a" stroke="#383838" stroke-width="0.55"/>
<circle cx="575.60" cy="94.20" r="1.65" fill="#8a8a8a" stroke="#383838" stroke-width="0.55"/>
<circle cx="578.80" cy="83.00" r="1.65" fill="#8a8a8a" stroke="#383838" stroke-width="0.55"/>
<line x1="566.30" y1="84.40" x2="591.00" y2="84.40" stroke="#1a1a1a" stroke-width="1.1"/>
<line x1="615.20" y1="89.20" x2="615.20" y2="102.30" stroke="#ad92de" stroke-width="0.7"/>
<line x1="609.40" y1="89.20" x2="621.00" y2="89.20" stroke="#ad92de" stroke-width="0.7"/>
<line x1="609.40" y1="102.30" x2="621.00" y2="102.30" stroke="#ad92de" stroke-width="0.7"/>
<rect x="613.30" y="82.70" width="3.4" height="3.4" fill="#9674d3"/>
<rect x="613.30" y="87.50" width="3.4" height="3.4" fill="#9674d3"/>
<rect x="620.60" y="92.00" width="3.4" height="3.4" fill="#9674d3"/>
<rect x="606.60" y="96.20" width="3.4" height="3.4" fill="#9674d3"/>
<rect x="613.30" y="94.30" width="3.4" height="3.4" fill="#9674d3"/>
<rect x="620.60" y="97.10" width="3.4" height="3.4" fill="#9674d3"/>
<rect x="617.10" y="101.00" width="3.4" height="3.4" fill="#9674d3"/>
<rect x="610.00" y="104.10" width="3.4" height="3.4" fill="#9674d3"/>
<line x1="603.10" y1="96.00" x2="627.50" y2="96.00" stroke="#6a46b0" stroke-width="1.4"/>
<line x1="651.90" y1="71.90" x2="651.90" y2="81.20" stroke="#8eaad2" stroke-width="0.7"/>
<line x1="645.90" y1="71.90" x2="657.90" y2="71.90" stroke="#8eaad2" stroke-width="0.7"/>
<line x1="645.90" y1="81.20" x2="657.90" y2="81.20" stroke="#8eaad2" stroke-width="0.7"/>
<rect x="645.00" y="65.40" width="3.4" height="3.4" fill="#789bc6"/>
<rect x="650.20" y="65.40" width="3.4" height="3.4" fill="#789bc6"/>
<rect x="655.60" y="64.60" width="3.4" height="3.4" fill="#789bc6"/>
<rect x="639.80" y="72.70" width="3.4" height="3.4" fill="#789bc6"/>
<rect x="645.00" y="73.30" width="3.4" height="3.4" fill="#789bc6"/>
<rect x="650.20" y="71.80" width="3.4" height="3.4" fill="#789bc6"/>
<rect x="655.60" y="73.30" width="3.4" height="3.4" fill="#789bc6"/>
<rect x="660.80" y="72.70" width="3.4" height="3.4" fill="#789bc6"/>
<rect x="647.50" y="78.50" width="3.4" height="3.4" fill="#789bc6"/>
<rect x="653.10" y="78.50" width="3.4" height="3.4" fill="#789bc6"/>
<rect x="647.50" y="83.30" width="3.4" height="3.4" fill="#789bc6"/>
<rect x="653.10" y="83.30" width="3.4" height="3.4" fill="#789bc6"/>
<line x1="640.00" y1="74.80" x2="664.00" y2="74.80" stroke="#3f5f98" stroke-width="1.4"/>
<text transform="translate(580.90,133.50) rotate(-45)" font-size="7.0" text-anchor="end" fill="#1a1a1a">Non-Smokers</text>
<text transform="translate(613.20,135.90) rotate(-45)" font-size="7.0" text-anchor="end" fill="#1a1a1a">High-Cotinine</text>
<text transform="translate(618.64,141.34) rotate(-45)" font-size="7.0" text-anchor="end" fill="#1a1a1a">Abstinent Smokers</text>
<text transform="translate(650.10,135.90) rotate(-45)" font-size="7.0" text-anchor="end" fill="#1a1a1a">Low-Cotinine</text>
<text transform="translate(655.54,141.34) rotate(-45)" font-size="7.0" text-anchor="end" fill="#1a1a1a">Abstinent Smokers</text>
<text x="2.50" y="225.30" font-size="11.5" text-anchor="start" font-weight="bold" fill="#1a1a1a">E</text>
<text x="93.20" y="225.60" font-size="7.8" text-anchor="middle" font-weight="bold" fill="#1a1a1a">High-Cotinine</text>
<text x="93.20" y="235.10" font-size="7.8" text-anchor="middle" font-weight="bold" fill="#1a1a1a">Abstinent Smokers</text>
<line x1="32.50" y1="250.00" x2="32.50" y2="331.00" stroke="#7e7e7e" stroke-width="1"/>
<line x1="29.50" y1="250.50" x2="32.50" y2="250.50" stroke="#8a8a8a" stroke-width="1"/>
<text x="28.20" y="251.88" font-size="7.2" text-anchor="end" fill="#1a1a1a">20</text>
<line x1="29.50" y1="270.50" x2="32.50" y2="270.50" stroke="#8a8a8a" stroke-width="1"/>
<text x="28.20" y="271.96" font-size="7.2" text-anchor="end" fill="#1a1a1a">16</text>
<line x1="29.50" y1="290.50" x2="32.50" y2="290.50" stroke="#8a8a8a" stroke-width="1"/>
<text x="28.20" y="292.04" font-size="7.2" text-anchor="end" fill="#1a1a1a">12</text>
<line x1="29.50" y1="310.50" x2="32.50" y2="310.50" stroke="#8a8a8a" stroke-width="1"/>
<text x="28.20" y="312.12" font-size="7.2" text-anchor="end" fill="#1a1a1a">8</text>
<line x1="29.50" y1="330.50" x2="32.50" y2="330.50" stroke="#8a8a8a" stroke-width="1"/>
<text x="28.20" y="332.20" font-size="7.2" text-anchor="end" fill="#1a1a1a">4</text>
<line x1="32.00" y1="330.50" x2="153.70" y2="330.50" stroke="#7e7e7e" stroke-width="1"/>
<line x1="32.50" y1="330.50" x2="32.50" y2="333.50" stroke="#8a8a8a" stroke-width="1"/>
<text x="32.50" y="340.90" font-size="7.2" text-anchor="middle" fill="#1a1a1a">0.1</text>
<line x1="56.50" y1="330.50" x2="56.50" y2="333.50" stroke="#8a8a8a" stroke-width="1"/>
<text x="56.70" y="340.90" font-size="7.2" text-anchor="middle" fill="#1a1a1a">0.2</text>
<line x1="80.50" y1="330.50" x2="80.50" y2="333.50" stroke="#8a8a8a" stroke-width="1"/>
<text x="80.90" y="340.90" font-size="7.2" text-anchor="middle" fill="#1a1a1a">0.3</text>
<line x1="105.50" y1="330.50" x2="105.50" y2="333.50" stroke="#8a8a8a" stroke-width="1"/>
<text x="105.10" y="340.90" font-size="7.2" text-anchor="middle" fill="#1a1a1a">0.4</text>
<line x1="129.50" y1="330.50" x2="129.50" y2="333.50" stroke="#8a8a8a" stroke-width="1"/>
<text x="129.30" y="340.90" font-size="7.2" text-anchor="middle" fill="#1a1a1a">0.5</text>
<line x1="153.50" y1="330.50" x2="153.50" y2="333.50" stroke="#8a8a8a" stroke-width="1"/>
<text x="153.50" y="340.90" font-size="7.2" text-anchor="middle" fill="#1a1a1a">0.6</text>
<text transform="translate(17.30,289.50) rotate(-90)" font-size="6.9" text-anchor="middle" fill="#1a1a1a">Cigarettes per day</text>
<text x="93.20" y="350.10" font-size="7.0" text-anchor="middle" fill="#1a1a1a">Loading Coefficients</text>
<text x="93.20" y="358.40" font-size="7.0" text-anchor="middle" font-style="italic" fill="#1a1a1a">(IC1)</text>
<polyline points="49.20,261.89 50.67,262.73 52.13,263.55 53.60,264.38 55.07,265.20 56.53,266.02 58.00,266.83 59.47,267.64 60.93,268.44 62.40,269.24 63.87,270.04 65.33,270.83 66.80,271.61 68.27,272.39 69.73,273.15 71.20,273.91 72.67,274.67 74.13,275.41 75.60,276.14 77.07,276.86 78.53,277.57 80.00,278.27 81.47,278.96 82.93,279.63 84.40,280.28 85.87,280.92 87.33,281.54 88.80,282.14 90.27,282.73 91.73,283.30 93.20,283.85 94.67,284.38 96.13,284.89 97.60,285.38 99.07,285.85 100.53,286.31 102.00,286.74 103.47,287.16 104.93,287.57 106.40,287.96 107.87,288.33 109.33,288.69 110.80,289.04 112.27,289.38 113.73,289.70 115.20,290.02 116.67,290.33 118.13,290.62 119.60,290.91 121.07,291.19 122.53,291.47 124.00,291.74 125.47,292.00 126.93,292.26 128.40,292.51 129.87,292.76 131.33,293.00 132.80,293.24 134.27,293.48 135.73,293.71 137.20,293.94" fill="none" stroke="#333" stroke-width="0.8" stroke-dasharray="1.2,0.5"/>
<polyline points="49.20,287.31 50.67,287.53 52.13,287.76 53.60,287.99 55.07,288.23 56.53,288.47 58.00,288.71 59.47,288.96 60.93,289.21 62.40,289.47 63.87,289.73 65.33,290.00 66.80,290.27 68.27,290.55 69.73,290.84 71.20,291.14 72.67,291.44 74.13,291.75 75.60,292.08 77.07,292.41 78.53,292.76 80.00,293.12 81.47,293.49 82.93,293.88 84.40,294.28 85.87,294.70 87.33,295.13 88.80,295.59 90.27,296.06 91.73,296.55 93.20,297.05 94.67,297.58 96.13,298.13 97.60,298.69 99.07,299.27 100.53,299.88 102.00,300.50 103.47,301.13 104.93,301.78 106.40,302.45 107.87,303.13 109.33,303.83 110.80,304.54 112.27,305.26 113.73,305.99 115.20,306.73 116.67,307.48 118.13,308.24 119.60,309.01 121.07,309.78 122.53,310.56 124.00,311.35 125.47,312.15 126.93,312.95 128.40,313.75 129.87,314.56 131.33,315.37 132.80,316.19 134.27,317.01 135.73,317.83 137.20,318.66" fill="none" stroke="#333" stroke-width="0.8" stroke-dasharray="1.2,0.5"/>
<line x1="49.20" y1="274.60" x2="137.20" y2="306.30" stroke="#333" stroke-width="0.8"/>
<rect x="47.55" y="278.75" width="3.3" height="3.3" fill="#9674d3"/>
<rect x="61.65" y="270.95" width="3.3" height="3.3" fill="#9674d3"/>
<rect x="82.35" y="273.55" width="3.3" height="3.3" fill="#9674d3"/>
<rect x="87.45" y="293.75" width="3.3" height="3.3" fill="#9674d3"/>
<rect x="97.45" y="298.65" width="3.3" height="3.3" fill="#9674d3"/>
<rect x="107.25" y="298.55" width="3.3" height="3.3" fill="#9674d3"/>
<rect x="119.85" y="298.55" width="3.3" height="3.3" fill="#9674d3"/>
<rect x="135.55" y="301.25" width="3.3" height="3.3" fill="#9674d3"/>
<rect x="100.50" y="246.60" width="50.50" height="16.00" fill="#fff" stroke="#8c8c8c" stroke-width="0.8"/>
<text x="102.40" y="252.90" font-size="5.4" fill="#333" style="stroke-width:0.1px">Pearson's <tspan font-style="italic">r</tspan> = 0.730</text>
<text x="102.40" y="259.80" font-size="5.4" fill="#333" style="stroke-width:0.1px"><tspan font-style="italic">p</tspan> = 0.040</text>
<text x="182.20" y="225.30" font-size="11.5" text-anchor="start" font-weight="bold" fill="#1a1a1a">F</text>
<text x="266.05" y="225.60" font-size="7.8" text-anchor="middle" font-weight="bold" fill="#1a1a1a">High-Cotinine</text>
<text x="266.05" y="235.10" font-size="7.8" text-anchor="middle" font-weight="bold" fill="#1a1a1a">Abstinent Smokers</text>
<line x1="205.50" y1="249.00" x2="205.50" y2="331.00" stroke="#7e7e7e" stroke-width="1"/>
<line x1="202.50" y1="249.50" x2="205.50" y2="249.50" stroke="#8a8a8a" stroke-width="1"/>
<text x="201.20" y="251.40" font-size="7.2" text-anchor="end" fill="#1a1a1a">20</text>
<line x1="202.50" y1="269.50" x2="205.50" y2="269.50" stroke="#8a8a8a" stroke-width="1"/>
<text x="201.20" y="271.60" font-size="7.2" text-anchor="end" fill="#1a1a1a">16</text>
<line x1="202.50" y1="290.50" x2="205.50" y2="290.50" stroke="#8a8a8a" stroke-width="1"/>
<text x="201.20" y="291.80" font-size="7.2" text-anchor="end" fill="#1a1a1a">12</text>
<line x1="202.50" y1="310.50" x2="205.50" y2="310.50" stroke="#8a8a8a" stroke-width="1"/>
<text x="201.20" y="312.00" font-size="7.2" text-anchor="end" fill="#1a1a1a">8</text>
<line x1="202.50" y1="330.50" x2="205.50" y2="330.50" stroke="#8a8a8a" stroke-width="1"/>
<text x="201.20" y="332.20" font-size="7.2" text-anchor="end" fill="#1a1a1a">4</text>
<line x1="205.00" y1="330.50" x2="326.70" y2="330.50" stroke="#7e7e7e" stroke-width="1"/>
<line x1="205.50" y1="330.50" x2="205.50" y2="333.50" stroke="#8a8a8a" stroke-width="1"/>
<text x="205.50" y="340.90" font-size="7.2" text-anchor="middle" fill="#1a1a1a">-0.1</text>
<line x1="225.50" y1="330.50" x2="225.50" y2="333.50" stroke="#8a8a8a" stroke-width="1"/>
<text x="225.75" y="340.90" font-size="7.2" text-anchor="middle" fill="#1a1a1a">0.0</text>
<line x1="246.50" y1="330.50" x2="246.50" y2="333.50" stroke="#8a8a8a" stroke-width="1"/>
<text x="246.00" y="340.90" font-size="7.2" text-anchor="middle" fill="#1a1a1a">0.1</text>
<line x1="266.50" y1="330.50" x2="266.50" y2="333.50" stroke="#8a8a8a" stroke-width="1"/>
<text x="266.25" y="340.90" font-size="7.2" text-anchor="middle" fill="#1a1a1a">0.2</text>
<line x1="286.50" y1="330.50" x2="286.50" y2="333.50" stroke="#8a8a8a" stroke-width="1"/>
<text x="286.50" y="340.90" font-size="7.2" text-anchor="middle" fill="#1a1a1a">0.3</text>
<line x1="306.50" y1="330.50" x2="306.50" y2="333.50" stroke="#8a8a8a" stroke-width="1"/>
<text x="306.75" y="340.90" font-size="7.2" text-anchor="middle" fill="#1a1a1a">0.4</text>
<line x1="327.50" y1="330.50" x2="327.50" y2="333.50" stroke="#8a8a8a" stroke-width="1"/>
<text x="327.00" y="340.90" font-size="7.2" text-anchor="middle" fill="#1a1a1a">0.5</text>
<text transform="translate(189.50,289.50) rotate(-90)" font-size="6.9" text-anchor="middle" fill="#1a1a1a">Cigarettes per day</text>
<text x="265.80" y="350.90" font-size="7.0" text-anchor="middle" fill="#1a1a1a">Loading Coefficients</text>
<text x="265.80" y="359.40" font-size="7.0" text-anchor="middle" font-style="italic" fill="#1a1a1a">(IC2)</text>
<polyline points="224.20,264.13 225.67,264.93 227.14,265.73 228.61,266.53 230.08,267.32 231.55,268.11 233.02,268.89 234.49,269.67 235.96,270.44 237.43,271.20 238.90,271.95 240.37,272.70 241.84,273.44 243.31,274.17 244.78,274.89 246.25,275.59 247.72,276.29 249.19,276.97 250.66,277.64 252.13,278.30 253.60,278.94 255.07,279.57 256.54,280.17 258.01,280.76 259.48,281.33 260.95,281.89 262.42,282.42 263.89,282.93 265.36,283.43 266.83,283.90 268.30,284.35 269.77,284.78 271.24,285.20 272.71,285.59 274.18,285.97 275.65,286.33 277.12,286.67 278.59,287.00 280.06,287.31 281.53,287.61 283.00,287.89 284.47,288.16 285.94,288.42 287.41,288.67 288.88,288.91 290.35,289.15 291.82,289.37 293.29,289.59 294.76,289.79 296.23,290.00 297.70,290.19 299.17,290.38 300.64,290.57 302.11,290.74 303.58,290.92 305.05,291.09 306.52,291.26 307.99,291.42 309.46,291.58 310.93,291.74 312.40,291.89" fill="none" stroke="#333" stroke-width="0.8" stroke-dasharray="1.2,0.5"/>
<polyline points="224.20,290.47 225.67,290.64 227.14,290.81 228.61,290.99 230.08,291.17 231.55,291.36 233.02,291.55 234.49,291.75 235.96,291.95 237.43,292.16 238.90,292.38 240.37,292.61 241.84,292.84 243.31,293.09 244.78,293.34 246.25,293.61 247.72,293.88 249.19,294.17 250.66,294.48 252.13,294.79 253.60,295.13 255.07,295.47 256.54,295.84 258.01,296.22 259.48,296.63 260.95,297.05 262.42,297.49 263.89,297.95 265.36,298.43 266.83,298.93 268.30,299.45 269.77,299.99 271.24,300.55 272.71,301.13 274.18,301.72 275.65,302.34 277.12,302.97 278.59,303.62 280.06,304.28 281.53,304.95 283.00,305.64 284.47,306.34 285.94,307.06 287.41,307.78 288.88,308.51 290.35,309.25 291.82,310.00 293.29,310.76 294.76,311.53 296.23,312.30 297.70,313.08 299.17,313.86 300.64,314.65 302.11,315.44 303.58,316.24 305.05,317.04 306.52,317.85 307.99,318.66 309.46,319.47 310.93,320.29 312.40,321.11" fill="none" stroke="#333" stroke-width="0.8" stroke-dasharray="1.2,0.5"/>
<line x1="224.20" y1="277.30" x2="312.40" y2="306.50" stroke="#333" stroke-width="0.8"/>
<rect x="222.55" y="278.55" width="3.3" height="3.3" fill="#9674d3"/>
<rect x="234.75" y="270.95" width="3.3" height="3.3" fill="#9674d3"/>
<rect x="251.65" y="273.55" width="3.3" height="3.3" fill="#9674d3"/>
<rect x="242.95" y="293.65" width="3.3" height="3.3" fill="#9674d3"/>
<rect x="272.85" y="298.95" width="3.3" height="3.3" fill="#9674d3"/>
<rect x="282.85" y="298.95" width="3.3" height="3.3" fill="#9674d3"/>
<rect x="289.05" y="298.95" width="3.3" height="3.3" fill="#9674d3"/>
<rect x="310.75" y="301.15" width="3.3" height="3.3" fill="#9674d3"/>
<rect x="278.30" y="247.70" width="50.40" height="16.30" fill="#fff" stroke="#8c8c8c" stroke-width="0.8"/>
<text x="280.20" y="254.10" font-size="5.4" fill="#333" style="stroke-width:0.1px">Pearson's <tspan font-style="italic">r</tspan> = 0.714</text>
<text x="280.20" y="260.70" font-size="5.4" fill="#333" style="stroke-width:0.1px"><tspan font-style="italic">p</tspan> = 0.047</text>
<text x="350.20" y="225.50" font-size="11.5" text-anchor="start" font-weight="bold" fill="#1a1a1a">G</text>
<text x="438.20" y="225.60" font-size="7.8" text-anchor="middle" font-weight="bold" fill="#1a1a1a">Low-Cotinine</text>
<text x="438.20" y="235.10" font-size="7.8" text-anchor="middle" font-weight="bold" fill="#1a1a1a">Abstinent Smokers</text>
<line x1="375.50" y1="247.00" x2="375.50" y2="331.00" stroke="#7e7e7e" stroke-width="1"/>
<line x1="372.50" y1="247.50" x2="375.50" y2="247.50" stroke="#8a8a8a" stroke-width="1"/>
<text x="371.20" y="249.40" font-size="7.2" text-anchor="end" fill="#1a1a1a">35</text>
<line x1="372.50" y1="268.50" x2="375.50" y2="268.50" stroke="#8a8a8a" stroke-width="1"/>
<text x="371.20" y="270.10" font-size="7.2" text-anchor="end" fill="#1a1a1a">28</text>
<line x1="372.50" y1="289.50" x2="375.50" y2="289.50" stroke="#8a8a8a" stroke-width="1"/>
<text x="371.20" y="290.80" font-size="7.2" text-anchor="end" fill="#1a1a1a">21</text>
<line x1="372.50" y1="309.50" x2="375.50" y2="309.50" stroke="#8a8a8a" stroke-width="1"/>
<text x="371.20" y="311.50" font-size="7.2" text-anchor="end" fill="#1a1a1a">14</text>
<line x1="372.50" y1="330.50" x2="375.50" y2="330.50" stroke="#8a8a8a" stroke-width="1"/>
<text x="371.20" y="332.20" font-size="7.2" text-anchor="end" fill="#1a1a1a">7</text>
<line x1="375.00" y1="330.50" x2="501.20" y2="330.50" stroke="#7e7e7e" stroke-width="1"/>
<line x1="375.50" y1="330.50" x2="375.50" y2="333.50" stroke="#8a8a8a" stroke-width="1"/>
<text x="375.60" y="341.40" font-size="7.4" text-anchor="middle" fill="#1a1a1a">0.5</text>
<line x1="400.50" y1="330.50" x2="400.50" y2="333.50" stroke="#8a8a8a" stroke-width="1"/>
<text x="400.70" y="341.40" font-size="7.4" text-anchor="middle" fill="#1a1a1a">0.6</text>
<line x1="425.50" y1="330.50" x2="425.50" y2="333.50" stroke="#8a8a8a" stroke-width="1"/>
<text x="425.80" y="341.40" font-size="7.4" text-anchor="middle" fill="#1a1a1a">0.7</text>
<line x1="450.50" y1="330.50" x2="450.50" y2="333.50" stroke="#8a8a8a" stroke-width="1"/>
<text x="450.90" y="341.40" font-size="7.4" text-anchor="middle" fill="#1a1a1a">0.8</text>
<line x1="476.50" y1="330.50" x2="476.50" y2="333.50" stroke="#8a8a8a" stroke-width="1"/>
<text x="476.00" y="341.40" font-size="7.4" text-anchor="middle" fill="#1a1a1a">0.9</text>
<line x1="501.50" y1="330.50" x2="501.50" y2="333.50" stroke="#8a8a8a" stroke-width="1"/>
<text x="501.10" y="341.40" font-size="7.4" text-anchor="middle" fill="#1a1a1a">1.0</text>
<text transform="translate(359.60,288.20) rotate(-90)" font-size="7.15" text-anchor="middle" fill="#1a1a1a">Cigarettes per day</text>
<text x="438.30" y="351.20" font-size="7.25" text-anchor="middle" fill="#1a1a1a">Loading Coefficients</text>
<text x="438.30" y="359.90" font-size="7.25" text-anchor="middle" font-style="italic" fill="#1a1a1a">(IC3)</text>
<polyline points="385.20,301.31 386.69,301.00 388.19,300.68 389.69,300.36 391.18,300.03 392.68,299.69 394.17,299.34 395.66,298.98 397.16,298.62 398.65,298.24 400.15,297.85 401.64,297.44 403.14,297.02 404.63,296.59 406.13,296.14 407.62,295.67 409.12,295.18 410.62,294.68 412.11,294.15 413.60,293.60 415.10,293.02 416.59,292.42 418.09,291.79 419.58,291.13 421.08,290.44 422.57,289.72 424.07,288.98 425.56,288.20 427.06,287.40 428.56,286.56 430.05,285.69 431.54,284.80 433.04,283.88 434.53,282.93 436.03,281.96 437.52,280.96 439.02,279.94 440.51,278.90 442.01,277.84 443.50,276.76 445.00,275.66 446.50,274.55 447.99,273.42 449.49,272.28 450.98,271.13 452.47,269.96 453.97,268.78 455.46,267.60 456.96,266.40 458.45,265.20 459.95,263.99 461.44,262.77 462.94,261.54 464.43,260.31 465.93,259.07 467.42,257.82 468.92,256.57 470.41,255.32 471.91,254.06 473.40,252.80 474.90,251.53" fill="none" stroke="#333" stroke-width="0.8" stroke-dasharray="1.2,0.5"/>
<polyline points="395.66,329.84 397.16,328.66 398.65,327.50 400.15,326.35 401.64,325.22 403.14,324.10 404.63,322.99 406.13,321.90 407.62,320.83 409.12,319.78 410.62,318.74 412.11,317.73 413.60,316.74 415.10,315.78 416.59,314.84 418.09,313.93 419.58,313.05 421.08,312.20 422.57,311.38 424.07,310.58 425.56,309.82 427.06,309.08 428.56,308.38 430.05,307.71 431.54,307.06 433.04,306.44 434.53,305.85 436.03,305.28 437.52,304.74 439.02,304.22 440.51,303.72 442.01,303.24 443.50,302.78 445.00,302.34 446.50,301.91 447.99,301.50 449.49,301.10 450.98,300.71 452.47,300.34 453.97,299.98 455.46,299.62 456.96,299.28 458.45,298.94 459.95,298.61 461.44,298.29 462.94,297.98 464.43,297.67 465.93,297.37 467.42,297.08 468.92,296.79 470.41,296.50 471.91,296.22 473.40,295.94 474.90,295.67" fill="none" stroke="#333" stroke-width="0.8" stroke-dasharray="1.2,0.5"/>
<line x1="385.20" y1="319.80" x2="474.90" y2="273.60" stroke="#333" stroke-width="0.8"/>
<rect x="473.25" y="253.15" width="3.3" height="3.3" fill="#789bc6"/>
<rect x="434.35" y="267.85" width="3.3" height="3.3" fill="#789bc6"/>
<rect x="408.65" y="289.95" width="3.3" height="3.3" fill="#789bc6"/>
<rect x="410.85" y="294.05" width="3.3" height="3.3" fill="#789bc6"/>
<rect x="400.75" y="299.15" width="3.3" height="3.3" fill="#789bc6"/>
<rect x="457.65" y="290.25" width="3.3" height="3.3" fill="#789bc6"/>
<rect x="461.75" y="290.25" width="3.3" height="3.3" fill="#789bc6"/>
<rect x="383.55" y="317.35" width="3.3" height="3.3" fill="#789bc6"/>
<rect x="407.55" y="313.95" width="3.3" height="3.3" fill="#789bc6"/>
<rect x="422.85" y="317.15" width="3.3" height="3.3" fill="#789bc6"/>
<rect x="429.55" y="319.85" width="3.3" height="3.3" fill="#789bc6"/>
<rect x="383.55" y="326.95" width="3.3" height="3.3" fill="#789bc6"/>
<rect x="449.40" y="313.00" width="52.50" height="16.00" fill="#fff" stroke="#8c8c8c" stroke-width="0.8"/>
<text x="451.30" y="319.70" font-size="5.6" fill="#333" style="stroke-width:0.1px">Pearson's <tspan font-style="italic">r</tspan> = 0.696</text>
<text x="451.30" y="326.30" font-size="5.6" fill="#333" style="stroke-width:0.1px"><tspan font-style="italic">p</tspan> = 0.012</text>
<text x="527.00" y="226.20" font-size="11.5" text-anchor="start" font-weight="bold" fill="#1a1a1a">H</text>
<text x="616.50" y="225.60" font-size="7.8" text-anchor="middle" font-weight="bold" fill="#1a1a1a">Low-Cotinine</text>
<text x="616.50" y="235.10" font-size="7.8" text-anchor="middle" font-weight="bold" fill="#1a1a1a">Abstinent Smokers</text>
<line x1="553.50" y1="246.00" x2="553.50" y2="331.00" stroke="#7e7e7e" stroke-width="1"/>
<line x1="550.50" y1="246.50" x2="553.50" y2="246.50" stroke="#8a8a8a" stroke-width="1"/>
<text x="549.20" y="248.80" font-size="7.2" text-anchor="end" fill="#1a1a1a">10.0</text>
<line x1="550.50" y1="267.50" x2="553.50" y2="267.50" stroke="#8a8a8a" stroke-width="1"/>
<text x="549.20" y="269.65" font-size="7.2" text-anchor="end" fill="#1a1a1a">7.5</text>
<line x1="550.50" y1="288.50" x2="553.50" y2="288.50" stroke="#8a8a8a" stroke-width="1"/>
<text x="549.20" y="290.50" font-size="7.2" text-anchor="end" fill="#1a1a1a">5.0</text>
<line x1="550.50" y1="309.50" x2="553.50" y2="309.50" stroke="#8a8a8a" stroke-width="1"/>
<text x="549.20" y="311.35" font-size="7.2" text-anchor="end" fill="#1a1a1a">2.5</text>
<line x1="550.50" y1="330.50" x2="553.50" y2="330.50" stroke="#8a8a8a" stroke-width="1"/>
<text x="549.20" y="332.20" font-size="7.2" text-anchor="end" fill="#1a1a1a">0.0</text>
<line x1="553.00" y1="330.50" x2="679.60" y2="330.50" stroke="#7e7e7e" stroke-width="1"/>
<line x1="553.50" y1="330.50" x2="553.50" y2="333.50" stroke="#8a8a8a" stroke-width="1"/>
<text x="553.50" y="342.00" font-size="7.5" text-anchor="middle" fill="#1a1a1a">0.5</text>
<line x1="578.50" y1="330.50" x2="578.50" y2="333.50" stroke="#8a8a8a" stroke-width="1"/>
<text x="578.70" y="342.00" font-size="7.5" text-anchor="middle" fill="#1a1a1a">0.6</text>
<line x1="603.50" y1="330.50" x2="603.50" y2="333.50" stroke="#8a8a8a" stroke-width="1"/>
<text x="603.90" y="342.00" font-size="7.5" text-anchor="middle" fill="#1a1a1a">0.7</text>
<line x1="629.50" y1="330.50" x2="629.50" y2="333.50" stroke="#8a8a8a" stroke-width="1"/>
<text x="629.10" y="342.00" font-size="7.5" text-anchor="middle" fill="#1a1a1a">0.8</text>
<line x1="654.50" y1="330.50" x2="654.50" y2="333.50" stroke="#8a8a8a" stroke-width="1"/>
<text x="654.30" y="342.00" font-size="7.5" text-anchor="middle" fill="#1a1a1a">0.9</text>
<line x1="679.50" y1="330.50" x2="679.50" y2="333.50" stroke="#8a8a8a" stroke-width="1"/>
<text x="679.50" y="342.00" font-size="7.5" text-anchor="middle" fill="#1a1a1a">1.0</text>
<text transform="translate(530.80,288.30) rotate(-90)" font-size="7.2" text-anchor="middle" fill="#1a1a1a">FTND (tobacco)</text>
<text x="616.30" y="352.00" font-size="7.25" text-anchor="middle" fill="#1a1a1a">Loading Coefficients</text>
<text x="616.30" y="360.60" font-size="7.25" text-anchor="middle" font-style="italic" fill="#1a1a1a">(IC3)</text>
<polyline points="562.60,280.34 564.12,280.15 565.63,279.95 567.15,279.74 568.67,279.52 570.18,279.30 571.70,279.06 573.22,278.82 574.73,278.56 576.25,278.30 577.77,278.02 579.28,277.72 580.80,277.41 582.32,277.09 583.83,276.75 585.35,276.39 586.87,276.01 588.38,275.61 589.90,275.19 591.42,274.75 592.93,274.28 594.45,273.79 595.97,273.27 597.48,272.73 599.00,272.16 600.52,271.56 602.03,270.93 603.55,270.28 605.07,269.59 606.58,268.88 608.10,268.15 609.62,267.38 611.13,266.59 612.65,265.78 614.17,264.94 615.68,264.08 617.20,263.21 618.72,262.31 620.23,261.39 621.75,260.45 623.27,259.50 624.78,258.53 626.30,257.55 627.82,256.56 629.33,255.55 630.85,254.54 632.37,253.51 633.88,252.47 635.40,251.43 636.92,250.37 638.43,249.31 639.95,248.24 641.47,247.16" fill="none" stroke="#333" stroke-width="0.8" stroke-dasharray="1.2,0.5"/>
<polyline points="562.60,316.86 564.12,315.78 565.63,314.72 567.15,313.66 568.67,312.61 570.18,311.57 571.70,310.54 573.22,309.51 574.73,308.50 576.25,307.50 577.77,306.52 579.28,305.54 580.80,304.59 582.32,303.64 583.83,302.72 585.35,301.81 586.87,300.92 588.38,300.05 589.90,299.21 591.42,298.38 592.93,297.58 594.45,296.81 595.97,296.06 597.48,295.34 599.00,294.64 600.52,293.97 602.03,293.33 603.55,292.72 605.07,292.14 606.58,291.58 608.10,291.05 609.62,290.55 611.13,290.07 612.65,289.62 614.17,289.19 615.68,288.78 617.20,288.39 618.72,288.03 620.23,287.68 621.75,287.35 623.27,287.03 624.78,286.73 626.30,286.45 627.82,286.17 629.33,285.91 630.85,285.66 632.37,285.42 633.88,285.19 635.40,284.97 636.92,284.76 638.43,284.56 639.95,284.36 641.47,284.17 642.98,283.99 644.50,283.81 646.02,283.63 647.53,283.47 649.05,283.30 650.57,283.14 652.08,282.99 653.60,282.84" fill="none" stroke="#333" stroke-width="0.8" stroke-dasharray="1.2,0.5"/>
<line x1="562.60" y1="298.60" x2="653.60" y2="260.60" stroke="#333" stroke-width="0.8"/>
<rect x="578.55" y="261.85" width="3.3" height="3.3" fill="#789bc6"/>
<rect x="640.45" y="261.95" width="3.3" height="3.3" fill="#789bc6"/>
<rect x="651.95" y="261.95" width="3.3" height="3.3" fill="#789bc6"/>
<rect x="612.45" y="270.15" width="3.3" height="3.3" fill="#789bc6"/>
<rect x="585.65" y="278.65" width="3.3" height="3.3" fill="#789bc6"/>
<rect x="600.95" y="278.65" width="3.3" height="3.3" fill="#789bc6"/>
<rect x="607.75" y="295.55" width="3.3" height="3.3" fill="#789bc6"/>
<rect x="560.95" y="303.75" width="3.3" height="3.3" fill="#789bc6"/>
<rect x="560.95" y="312.05" width="3.3" height="3.3" fill="#789bc6"/>
<rect x="627.70" y="312.50" width="52.60" height="16.90" fill="#fff" stroke="#8c8c8c" stroke-width="0.8"/>
<text x="630.00" y="319.80" font-size="5.6" fill="#333" style="stroke-width:0.1px">Pearson's r = 0.703</text>
<text x="630.00" y="326.30" font-size="5.6" fill="#333" style="stroke-width:0.1px"><tspan font-style="italic">p</tspan> = 0.035</text>
</svg>
</body></html>
